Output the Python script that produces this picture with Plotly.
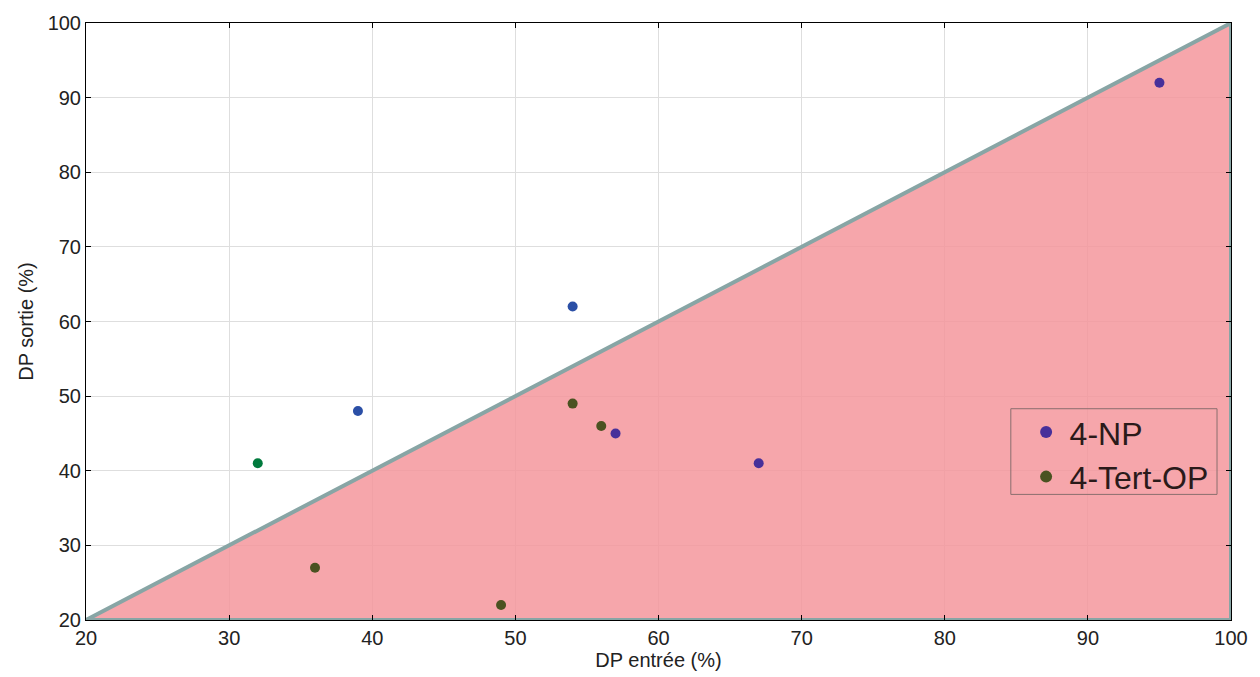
import plotly.graph_objects as go

# Region (triangle) vertices in data units
region_x = [20, 100, 100, 20]
region_y = [20, 100, 20, 20]

# Series
np_x = [95, 57, 67]
np_y = [92, 45, 41]
op_x = [54, 56, 36, 49]
op_y = [49, 46, 27, 22]
blue_x = [39, 54]
blue_y = [48, 62]
green_x = [32]
green_y = [41]

x_ticks = [20, 30, 40, 50, 60, 70, 80, 90, 100]
y_ticks = [20, 30, 40, 50, 60, 70, 80, 90, 100]

FONT = "Liberation Sans, Arial"

fig = go.Figure()
fig.add_trace(go.Scatter(x=region_x, y=region_y, mode="lines", fill="toself",
                         fillcolor="rgba(245,150,156,0.85)",
                         line=dict(color="#88a5a5", width=4), showlegend=False,
                         hoverinfo="skip"))
fig.add_trace(go.Scatter(x=blue_x, y=blue_y, mode="markers",
                         marker=dict(color="#2b4fa6", size=10), showlegend=False))
fig.add_trace(go.Scatter(x=green_x, y=green_y, mode="markers",
                         marker=dict(color="#007a3d", size=10), showlegend=False))
fig.add_trace(go.Scatter(x=np_x, y=np_y, mode="markers", name="4-NP",
                         marker=dict(color="#47309a", size=10)))
fig.add_trace(go.Scatter(x=op_x, y=op_y, mode="markers", name="4-Tert-OP",
                         marker=dict(color="#4a5221", size=10)))

axis_common = dict(showgrid=True, gridcolor="#dedede", gridwidth=1,
                   ticks="inside", ticklen=5, tickcolor="#000", mirror="ticks",
                   zeroline=False, tickfont=dict(family=FONT, size=20, color="#222"))
fig.update_xaxes(range=[20, 100], tickvals=x_ticks, showline=True, linecolor="#000", linewidth=1,
                 title=dict(text="DP entrée (%)", font=dict(family=FONT, size=20, color="#222"), standoff=2),
                 **axis_common)
fig.update_yaxes(range=[20, 100], tickvals=y_ticks, showline=True, linecolor="#000", linewidth=1,
                 title=dict(text="DP sortie (%)", font=dict(family=FONT, size=20, color="#222"), standoff=8),
                 **axis_common)

# legend frame drawn as a shape
fig.add_shape(type="rect", xref="paper", yref="paper",
              x0=0.8077, x1=0.9878, y0=0.2104, y1=0.3539,
              line=dict(color="#8a6e6e", width=1), fillcolor="rgba(0,0,0,0)", layer="above")

fig.update_layout(
    width=1260, height=677,
    margin=dict(l=86, r=25, t=23, b=55),
    plot_bgcolor="white", paper_bgcolor="white",
    legend=dict(x=0.818, y=0.3606, xanchor="left", yanchor="top",
                bgcolor="rgba(0,0,0,0)", borderwidth=0,
                font=dict(family=FONT, size=32, color="#2a1a1a"),
                itemsizing="constant", itemwidth=37),
)
post = ("document.documentElement.style.margin='0';"
        "document.body.style.margin='0';document.body.style.padding='0';"
        "document.documentElement.style.overflow='hidden';"
        "document.body.style.overflow='hidden';"
        "document.body.style.height='677px';")
fig.write_html("out.html", config={"displayModeBar": False}, post_script=post)
